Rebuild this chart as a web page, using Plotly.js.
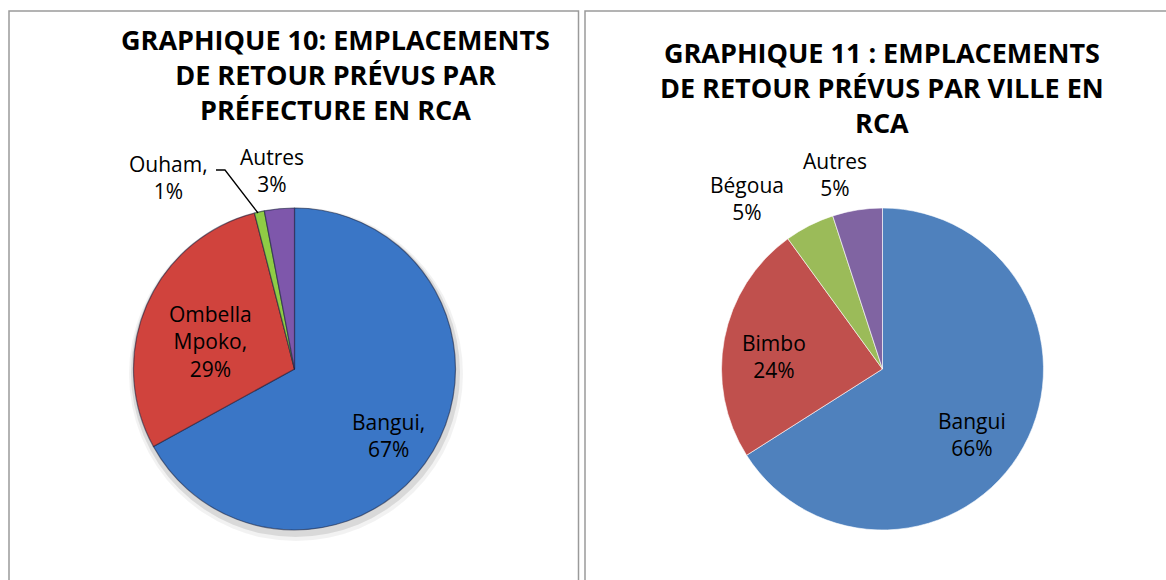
<!DOCTYPE html>
<html>
<head>
<meta charset="utf-8">
<script src="https://cdn.plot.ly/plotly-3.0.1.min.js"></script>
<style>
  html, body { margin: 0; padding: 0; background: #fff; }
  #chart { width: 1166px; height: 580px; }
</style>
</head>
<body>
<div id="chart"></div>
<script>
// Graphique 10 - by prefecture
var prefLabels = ["Bangui", "Ombella Mpoko", "Ouham", "Autres"];
var prefValues = [67, 29, 1, 3];
var prefText = ["Bangui,", "Ombella<br>Mpoko,", "Ouham,", "Autres"];
var prefColors = ["#3a76c6", "#d0433d", "#8fcc45", "#7e57ab"];

// Graphique 11 - by town
var villeLabels = ["Bangui", "Bimbo", "Bégoua", "Autres"];
var villeValues = [66, 24, 5, 5];
var villeColors = ["#4f81bd", "#c0504d", "#9bbb59", "#8064a2"];

var titles = [
    "GRAPHIQUE 10: EMPLACEMENTS<br>DE RETOUR PRÉVUS PAR<br>PRÉFECTURE EN RCA",
    "GRAPHIQUE 11 : EMPLACEMENTS<br>DE RETOUR PRÉVUS PAR VILLE EN<br>RCA"
];

var W = 1166, H = 580;
function px(x) { return x / W; }
function py(y) { return 1 - y / H; }

var font = "Open Sans, Noto Sans, sans-serif";

var trace1 = {
    type: "pie",
    labels: prefLabels,
    values: prefValues,
    sort: false,
    direction: "clockwise",
    rotation: 0,
    textinfo: "none",
    hoverinfo: "label+percent",
    marker: {colors: prefColors, line: {color: "rgba(20,30,60,0.55)", width: 1.2}},
    domain: {x: [px(133.5), px(455.5)], y: [py(530), py(208)]},
    showlegend: false
};

var trace2 = {
    type: "pie",
    labels: villeLabels,
    values: villeValues,
    sort: false,
    direction: "clockwise",
    rotation: 0,
    textinfo: "none",
    hoverinfo: "label+percent",
    marker: {colors: villeColors, line: {color: "#ffffff", width: 0.6}},
    domain: {x: [px(721.5), px(1043.5)], y: [py(530), py(208)]},
    showlegend: false
};

// label positions (px) for each slice
var prefPos = [[388, 436], [210, 341], [168, 177], [272, 170]];
var villePos = [[972, 434], [774, 356], [747, 198], [835, 174]];

function note(x, y, text, size, bold) {
    return {
        xref: "paper", yref: "paper",
        x: px(x), y: py(y),
        xanchor: "center", yanchor: "middle",
        text: text,
        showarrow: false,
        font: {family: font, size: size, color: "#000", weight: bold ? "bold" : "normal"}
    };
}

var annotations = [];
prefValues.forEach(function(v, i) {
    annotations.push(note(prefPos[i][0], prefPos[i][1], prefText[i] + "<br>" + v + "%", 21, false));
});
villeValues.forEach(function(v, i) {
    annotations.push(note(villePos[i][0], villePos[i][1], villeLabels[i] + "<br>" + v + "%", 21, false));
});
annotations.push(note(335, 75, titles[0], 27, true));
annotations.push(note(882, 88, titles[1], 27, true));

var shapes = [
    // panel borders
    {type: "rect", xref: "paper", yref: "paper", x0: px(9), x1: px(578.5), y0: py(600), y1: py(11),
     line: {color: "#9a9a9a", width: 1.5}},
    {type: "rect", xref: "paper", yref: "paper", x0: px(585), x1: px(1180), y0: py(600), y1: py(11),
     line: {color: "#9a9a9a", width: 1.5}},
    // soft shadow under the first pie
    {type: "circle", xref: "paper", yref: "paper", layer: "below",
     x0: px(129), x1: px(463), y0: py(541), y1: py(207),
     fillcolor: "rgba(0,0,0,0.05)", line: {width: 0}},
    {type: "circle", xref: "paper", yref: "paper", layer: "below",
     x0: px(131), x1: px(460), y0: py(537), y1: py(208),
     fillcolor: "rgba(0,0,0,0.10)", line: {width: 0}},
    // leader line for Ouham
    {type: "path", xref: "paper", yref: "paper",
     path: "M " + px(216) + " " + py(170) + " L " + px(225) + " " + py(170) + " L " + px(258) + " " + py(213),
     line: {color: "#000", width: 1.3}}
];

var layout = {
    width: W,
    height: H,
    margin: {l: 0, r: 0, t: 0, b: 0},
    paper_bgcolor: "#fff",
    showlegend: false,
    annotations: annotations,
    shapes: shapes
};

Plotly.newPlot("chart", [trace1, trace2], layout, {displayModeBar: false, staticPlot: true});
</script>
</body>
</html>
